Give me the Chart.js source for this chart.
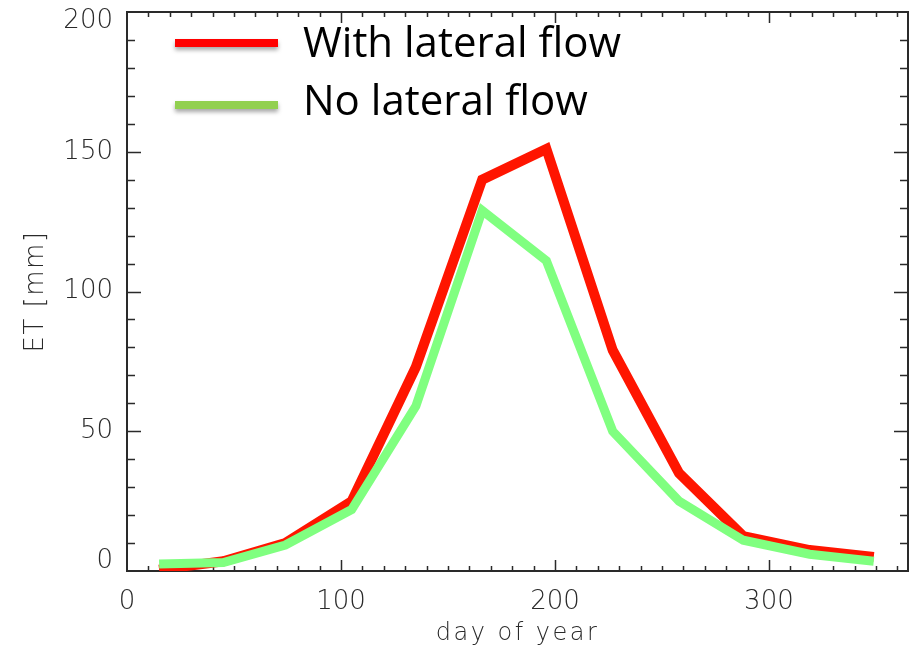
<!DOCTYPE html>
<html>
<head>
<meta charset="utf-8">
<style>
  html, body { margin: 0; padding: 0; background: #fff; }
  #wrap { width: 913px; height: 645px; position: relative; }
</style>
<script src="https://cdn.jsdelivr.net/npm/chart.js@4.4.1/dist/chart.umd.min.js"></script>
</head>
<body>
<div id="wrap"><canvas id="et-chart"></canvas></div>
<script>
// monthly ET, plotted at mid-month day of year
var days = [15, 45, 74, 105, 135, 166, 196, 227, 258, 288, 319, 349];
var withLateral = [0.5, 3.5, 10, 25, 73, 140, 151, 79, 35, 12.5, 7.5, 5];
var noLateral = [2.5, 3, 9.3, 22, 59, 129, 111, 50, 25, 11, 6, 3.5];
var seriesNames = ["With lateral flow", "No lateral flow"];
var yTickLabels = [0, 50, 100, 150, 200];
var xTitle = "day of year";
var yTitle = "ET [mm]";

var axisFont = "200 26px 'DejaVu Sans'";
var inkColor = "#2a2a2a";

function points(xs, ys) {
    return xs.map(function (x, i) { return { x: x, y: ys[i] }; });
}

// box, inward ticks, y labels and axis titles (IDL style)
var framePlugin = {
    id: "frame",
    beforeDatasetsDraw: function (chart) {
        var ctx = chart.ctx, a = chart.chartArea;
        var xs = chart.scales.x, ys = chart.scales.y;
        ctx.save();
        ctx.strokeStyle = inkColor;
        ctx.lineWidth = 2;
        ctx.strokeRect(a.left, a.top, a.right - a.left, a.bottom - a.top);
        ctx.lineWidth = 1.5;
        ctx.beginPath();
        for (var d = 10; d < xs.max; d += 10) {
            var px = Math.round(xs.getPixelForValue(d)) + 0.5;
            var len = d % 100 === 0 ? 11 : 5;
            ctx.moveTo(px, a.bottom); ctx.lineTo(px, a.bottom - len);
            ctx.moveTo(px, a.top); ctx.lineTo(px, a.top + len);
        }
        for (var v = 10; v < ys.max; v += 10) {
            var py = Math.round(ys.getPixelForValue(v)) + 0.5;
            var ylen = v % 50 === 0 ? 14 : 8;
            ctx.moveTo(a.left, py); ctx.lineTo(a.left + ylen, py);
            ctx.moveTo(a.right, py); ctx.lineTo(a.right - ylen, py);
        }
        ctx.stroke();

        // y tick labels, end labels kept inside the box
        ctx.fillStyle = inkColor;
        ctx.font = axisFont;
        ctx.textAlign = "right";
        ctx.textBaseline = "middle";
        yTickLabels.forEach(function (t) {
            var y = ys.getPixelForValue(t);
            if (y - 10 < a.top) y = a.top + 9.5;
            if (y + 10 > a.bottom) y = a.bottom - 9.5;
            ctx.fillText(String(t), a.left - 14, y);
        });

        // axis titles
        ctx.font = "200 24px 'DejaVu Sans'";
        ctx.letterSpacing = "2.5px";
        ctx.textAlign = "center";
        ctx.textBaseline = "alphabetic";
        ctx.fillText(xTitle, (a.left + a.right) / 2, 640);
        ctx.save();
        ctx.translate(43, (a.top + a.bottom) / 2);
        ctx.rotate(-Math.PI / 2);
        ctx.font = "200 26px 'DejaVu Sans'";
        ctx.letterSpacing = "1.5px";
        ctx.fillText(yTitle, 0, 0);
        ctx.restore();
        ctx.restore();
    }
};

// legend drawn inside the plot, top left
var legendPlugin = {
    id: "insideLegend",
    afterDraw: function (chart) {
        var ctx = chart.ctx;
        var rows = [
            { y: 43, color: "#ff0000", base: 57 },
            { y: 105, color: "#92d050", base: 115 }
        ];
        ctx.save();
        rows.forEach(function (r, i) {
            ctx.save();
            ctx.shadowColor = "rgba(0,0,0,0.35)";
            ctx.shadowBlur = 4;
            ctx.shadowOffsetY = 3;
            ctx.fillStyle = r.color;
            ctx.fillRect(175, r.y - 4, 103, 8);
            ctx.restore();
            ctx.fillStyle = "#000";
            ctx.font = "42px 'Open Sans'";
            ctx.textAlign = "left";
            ctx.textBaseline = "alphabetic";
            ctx.fillText(chart.data.datasets[i].label, 303, r.base);
        });
        ctx.restore();
    }
};

var ctx = document.getElementById("et-chart");

var chartData = {
    datasets: [{
        label: seriesNames[0],
        data: points(days, withLateral),
        borderColor: "#ff1500",
        borderWidth: 10,
        pointRadius: 0,
        fill: false,
        clip: 0,
        order: 1
    }, {
        label: seriesNames[1],
        data: points(days, noLateral),
        borderColor: "#80ff80",
        borderWidth: 9,
        pointRadius: 0,
        fill: false,
        clip: 0,
        order: 0
    }]
};

var chartOptions = {
    responsive: true,
    maintainAspectRatio: false,
    animation: false,
    layout: { padding: { top: 12, right: 5, left: 0, bottom: 0 } },
    plugins: {
        legend: { display: false },
        tooltip: { enabled: false }
    },
    scales: {
        x: {
            type: "linear",
            position: "bottom",
            min: 0,
            max: 365,
            afterFit: function (s) { s.height = 74; },
            grid: { display: false },
            border: { display: false },
            ticks: {
                stepSize: 100,
                includeBounds: false,
                autoSkip: false,
                maxRotation: 0,
                padding: 8,
                color: inkColor,
                font: { family: "'DejaVu Sans'", size: 26, weight: 200 }
            }
        },
        y: {
            type: "linear",
            min: 0,
            max: 200,
            afterFit: function (s) { s.width = 127; },
            grid: { display: false },
            border: { display: false },
            ticks: { display: false, stepSize: 50 }
        }
    }
};

var config = {
    type: "line",
    data: chartData,
    options: chartOptions,
    plugins: [framePlugin, legendPlugin]
};

var etChart = new Chart(ctx, config);
</script>
</body>
</html>
